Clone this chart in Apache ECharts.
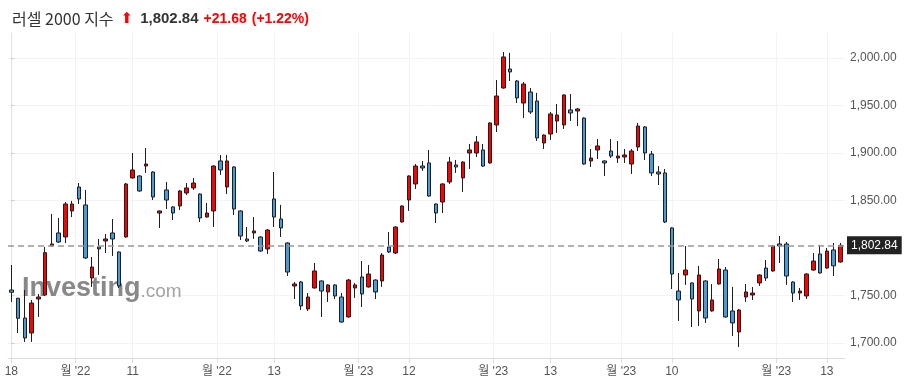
<!DOCTYPE html>
<html><head><meta charset="utf-8">
<script src="https://cdn.jsdelivr.net/npm/echarts@6/dist/echarts.min.js"></script>
<style>html,body{margin:0;padding:0;background:#fff}#c{width:907px;height:387px}</style>
</head><body><div id="c"></div>
<script>
// Title texts
const indexName = '러셀 2000 지수';
const lastPriceText = '1,802.84';
const changeText = '+21.68';
const changePctText = '(+1.22%)';
const lastPrice = 1802.84;

// Daily sessions (index 0..123), OHLC
const opens = [1755.8,1747.1,1726.3,1710.5,1746.3,1750.5,1802.1,1815.8,1811.6,1839.0,
1864.2,1845.3,1768.4,1801.1,1807.4,1815.8,1795.8,1811.6,1873.7,1875.8,
1886.3,1880.0,1836.8,1861.1,1843.2,1844.2,1857.9,1863.2,1856.8,1832.6,
1839.0,1891.6,1864.2,1885.3,1839.0,1809.5,1815.8,1811.6,1799.0,1851.6,
1830.5,1805.3,1760.0,1764.2,1735.8,1757.9,1765.3,1753.7,1761.1,1748.4,
1727.4,1757.9,1769.5,1759.0,1766.3,1765.3,1801.1,1794.7,1827.4,1850.5,
1867.4,1886.3,1889.5,1846.3,1848.4,1869.5,1887.4,1873.7,1900.0,1900.0,
1903.2,1889.5,1929.5,1968.4,1988.4,1975.8,1952.6,1964.2,1954.7,1910.5,
1920.0,1933.7,1929.5,1945.3,1944.2,1936.8,1891.6,1903.2,1891.6,1902.1,
1894.7,1895.8,1888.4,1906.3,1927.4,1898.9,1880.0,1879.0,1821.1,1754.7,
1771.6,1763.2,1733.7,1765.3,1733.7,1762.1,1776.8,1733.7,1711.6,1748.4,
1750.5,1763.2,1778.9,1775.8,1804.2,1804.2,1764.2,1752.6,1749.5,1776.8,
1793.7,1778.9,1797.9,1785.3];
const closes = [1753.4,1726.0,1705.3,1742.1,1748.4,1795.1,1804.2,1806.3,1846.3,1846.3,
1851.6,1789.5,1780.0,1799.0,1809.5,1809.5,1760.0,1867.4,1882.1,1860.0,
1888.4,1853.7,1839.0,1850.5,1836.8,1860.0,1863.2,1868.4,1831.6,1836.8,
1886.3,1882.1,1891.6,1841.1,1812.6,1807.4,1817.9,1796.8,1818.9,1832.6,
1821.1,1774.7,1762.1,1739.0,1748.4,1775.8,1754.7,1761.1,1749.5,1722.1,
1766.3,1761.1,1751.6,1772.6,1753.7,1792.6,1795.8,1822.1,1844.2,1875.8,
1886.3,1884.2,1854.7,1836.8,1867.4,1890.5,1885.3,1890.5,1903.2,1911.6,
1886.3,1931.6,1960.0,2001.1,1985.3,1957.9,1972.6,1943.2,1915.8,1918.9,
1941.1,1940.0,1961.1,1942.1,1946.3,1888.4,1894.7,1907.4,1889.5,1896.8,
1896.8,1897.9,1902.1,1928.4,1900.0,1879.0,1877.9,1827.4,1772.6,1745.3,
1776.8,1746.3,1771.6,1726.3,1745.3,1777.9,1727.4,1721.1,1734.7,1753.7,
1752.6,1771.6,1768.4,1802.1,1802.1,1770.5,1752.6,1754.7,1772.6,1786.3,
1773.7,1796.8,1781.2,1802.84];
const lows = [1743.2,1710.5,1701.1,1701.1,1727.4,1749.5,1801.5,1805.3,1805.3,1832.6,
1846.3,1788.5,1759.0,1771.6,1794.7,1791.6,1757.9,1810.8,1873.0,1859.2,
1879.0,1850.5,1821.1,1841.1,1829.5,1840.0,1855.8,1861.1,1827.4,1832.0,
1822.1,1876.8,1856.8,1834.7,1808.4,1806.3,1809.5,1796.0,1793.7,1822.1,
1811.6,1770.5,1746.3,1734.7,1733.7,1757.2,1727.4,1743.2,1746.3,1721.4,
1726.7,1747.4,1737.9,1758.3,1746.3,1759.0,1794.7,1793.7,1826.7,1839.0,
1862.1,1881.1,1854.0,1826.3,1836.8,1867.4,1879.0,1858.9,1883.2,1895.8,
1885.3,1888.8,1922.1,1967.7,1975.8,1952.6,1936.8,1941.1,1912.6,1904.2,
1913.7,1921.1,1925.3,1933.7,1928.4,1887.7,1885.3,1893.7,1875.8,1894.7,
1889.5,1889.5,1877.9,1902.1,1892.6,1875.8,1866.3,1826.3,1756.8,1723.2,
1761.1,1716.8,1717.9,1721.1,1733.0,1761.4,1726.7,1707.4,1695.8,1743.2,
1745.3,1760.0,1765.3,1775.1,1784.2,1761.1,1743.2,1745.3,1746.3,1776.1,
1773.0,1778.2,1770.5,1784.6];
const highs = [1782.1,1747.5,1755.8,1745.3,1751.6,1801.1,1835.8,1831.6,1848.4,1849.5,
1868.4,1861.1,1790.5,1809.5,1814.7,1830.5,1796.5,1868.4,1900.0,1876.5,
1905.3,1880.8,1839.5,1869.5,1843.9,1861.1,1868.4,1873.7,1857.5,1847.4,
1887.0,1897.9,1897.9,1886.0,1839.7,1822.1,1832.6,1812.3,1820.0,1880.0,
1845.3,1806.0,1764.2,1765.3,1752.6,1784.2,1766.0,1761.8,1761.8,1752.6,
1767.4,1763.2,1786.3,1782.1,1767.0,1794.7,1816.8,1822.8,1844.9,1876.5,
1888.4,1891.6,1903.2,1847.0,1868.1,1895.8,1892.6,1891.2,1909.5,1917.9,
1909.5,1932.3,1976.8,2006.3,2005.3,1976.8,1974.7,1968.4,1963.2,1919.6,
1943.2,1951.6,1961.8,1962.1,1947.4,1937.5,1904.2,1914.7,1892.3,1914.7,
1912.6,1904.2,1904.2,1931.6,1928.4,1902.1,1886.3,1883.2,1821.8,1773.7,
1802.1,1763.9,1781.1,1766.0,1762.1,1788.4,1780.0,1759.0,1735.8,1762.1,
1759.0,1772.3,1787.4,1802.8,1812.6,1806.3,1764.9,1757.9,1773.3,1794.7,
1803.2,1800.0,1805.3,1805.3];

// X tick positions (session index; .5 = month boundary) and labels
const xTickPos = [0, 9.5, 18, 30.5, 39, 51.5, 59, 71.5, 80, 90.5, 98, 113.5, 121];
const xTickLabels = ['18', "월 '22", '11', "월 '22", '13', "월 '23", '12', "월 '23", '13', "월 '23", '10', "월 '23", '13'];
const yTickValues = [1700, 1750, 1850, 1900, 1950, 2000];

const candleData = opens.map((o, i) => [i, o, closes[i], lows[i], highs[i]]);

function fmt2(v) {
  return v.toLocaleString('en-US', {minimumFractionDigits: 2, maximumFractionDigits: 2});
}

const chart = echarts.init(document.getElementById('c'), null, {renderer: 'canvas'});
const FONT = '"Liberation Sans", Arial, "Noto Sans CJK KR", sans-serif';
chart.setOption({
  animation: false,
  backgroundColor: '#fff',
  title: {
    left: 7, top: 5,
    text: '{n|' + indexName + '} {a|⬆} {p|' + lastPriceText + '} {c|' + changeText + '} {c|' + changePctText + '}',
    textStyle: {
      fontWeight: 'normal',
      rich: {
        n: {fontSize: 16, fontWeight: 'normal', color: '#333', fontFamily: '"Noto Sans CJK KR", "Liberation Sans", sans-serif'},
        a: {fontSize: 15, color: '#f00', fontFamily: '"DejaVu Sans", sans-serif', padding: [0, 2, 0, 2]},
        p: {fontSize: 15, fontWeight: 'bold', color: '#333', fontFamily: FONT},
        c: {fontSize: 14, fontWeight: 'bold', color: '#f00', fontFamily: FONT}
      }
    }
  },
  graphic: [{
    type: 'text', left: 22, top: 275, z: 1, silent: true,
    style: {
      text: '{a|Investing}{b|.com}',
      rich: {
        a: {fontSize: 27, fontWeight: 'bold', fill: 'rgba(115,115,115,0.85)', fontFamily: FONT},
        b: {fontSize: 19, fill: 'rgba(140,140,140,0.8)', fontFamily: FONT, padding: [6, 0, 0, 0]}
      }
    }
  }],
  grid: {left: 8, right: 62, top: 33, bottom: 29},
  xAxis: {
    type: 'value', min: -0.5, max: 123.7,
    axisLine: {show: true, lineStyle: {color: '#dcdcdc'}},
    axisTick: {show: true, customValues: xTickPos, length: 5, lineStyle: {color: '#dcdcdc'}},
    axisLabel: {
      customValues: xTickPos, margin: 8, color: '#555', fontSize: 12, fontFamily: FONT,
      formatter: v => {
        let best = 0;
        xTickPos.forEach((p, i) => { if (Math.abs(p - v) < Math.abs(xTickPos[best] - v)) best = i; });
        return xTickLabels[best];
      }
    },
    splitLine: {show: true, lineStyle: {color: '#f3f3f3'}}
  },
  yAxis: {
    type: 'value', position: 'right', min: 1684.2, max: 2026.3, scale: true,
    axisLine: {show: true, lineStyle: {color: '#dfe1e6'}},
    axisTick: {show: true, customValues: yTickValues, length: 3, lineStyle: {color: '#ccc'}},
    axisLabel: {customValues: yTickValues, margin: 5, color: '#555', fontSize: 12, fontFamily: FONT, formatter: v => fmt2(v)},
    splitLine: {show: true, lineStyle: {color: '#f3f3f3'}}
  },
  series: [{
    type: 'candlestick',
    data: candleData,
    encode: {x: 0, y: [1, 2, 3, 4]},
    barWidth: 4,
    z: 3,
    itemStyle: {color: '#ff0000', color0: '#4a9ad8', borderColor: '#1e1e1e', borderColor0: '#1e1e1e', borderWidth: 1},
    markLine: {
      silent: true, symbol: ['none', 'none'], animation: false,
      lineStyle: {color: '#999', type: [6, 4], width: 1.5},
      label: {
        show: true, position: 'end', distance: 2,
        formatter: () => fmt2(lastPrice),
        backgroundColor: '#222', color: '#fff', padding: [3, 4, 3, 4], fontSize: 12, fontFamily: FONT
      },
      data: [{yAxis: lastPrice}]
    }
  }]
});
</script>
</body></html>
